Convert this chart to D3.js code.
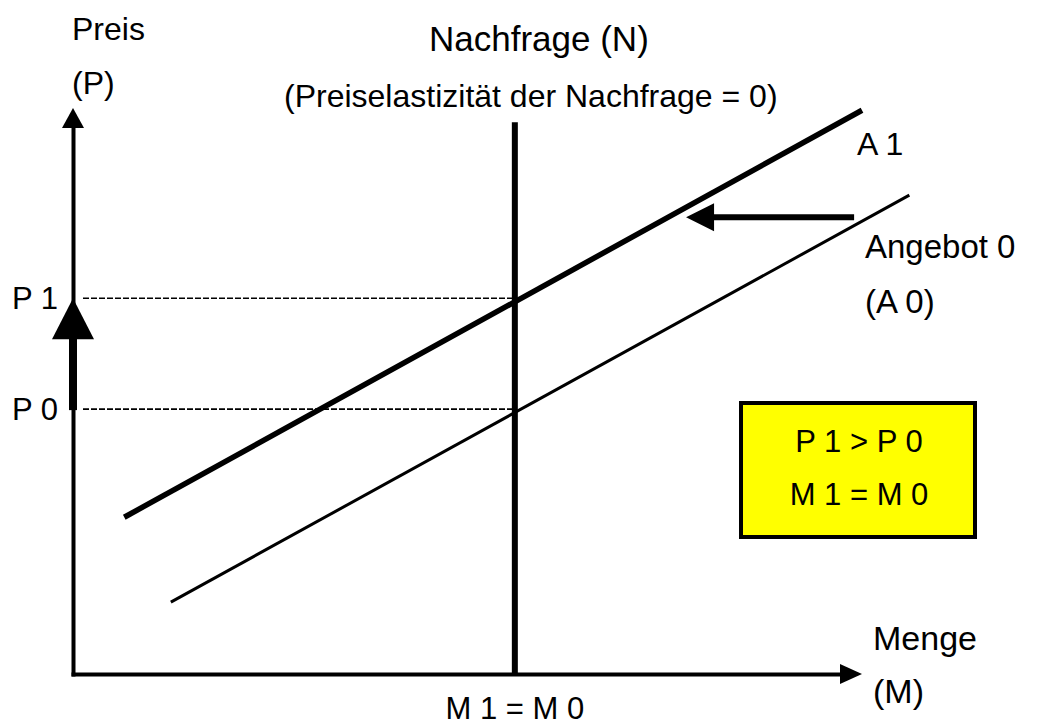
<!DOCTYPE html>
<html lang="de">
<head>
<meta charset="UTF-8">
<script src="https://cdn.jsdelivr.net/npm/d3@7"></script>
<style>
  body { margin: 0; background: #fff; }
  text { font-family: "Liberation Sans", Arial, sans-serif; fill: #000; }
</style>
</head>
<body>
<div id="container"></div>
<script>
const width = 1038;
const height = 720;

// Menge (M) und Preis (P) in Diagramm-Einheiten
const quantityDomain = [0, 100];
const priceDomain = [0, 100];

const supplyA0 = [{m: 12.4, p: 12.7}, {m: 106, p: 84.6}];
const supplyA1 = [{m: 6.5, p: 27.7}, {m: 100, p: 99.6}];
const demand = [{m: 56, p: 0}, {m: 56, p: 97.5}];
const priceLevels = [{name: "P 0", p: 46.8}, {name: "P 1", p: 66.4}];
const equilibriumQuantity = {name: "M 1 = M 0", m: 56};
const supplyShift = [{m: 99, p: 80.7}, {m: 77.7, p: 80.7}];
const boxLines = ["P 1 > P 0", "M 1 = M 0"];

const x = d3.scaleLinear().domain(quantityDomain).range([73, 862]);
const y = d3.scaleLinear().domain(priceDomain).range([674, 108]);

const svg = d3.create("svg")
    .attr("width", width)
    .attr("height", height);

// axes, no ticks, stopped at the arrow heads
svg.append("g")
    .attr("transform", `translate(0,${y(0)})`)
    .call(d3.axisBottom(x.copy().range([71, 845])).tickValues([]).tickSizeOuter(0))
    .select(".domain").attr("stroke-width", 4);

svg.append("g")
    .attr("transform", `translate(${x(0)},0)`)
    .call(d3.axisLeft(y.copy().range([676, 125])).tickValues([]).tickSizeOuter(0))
    .select(".domain").attr("stroke-width", 4);

function arrow(x1, y1, x2, y2, shaft, headLen, headHalf) {
    const dx = x2 - x1, dy = y2 - y1;
    const len = Math.hypot(dx, dy);
    const ux = dx / len, uy = dy / len;
    const bx = x2 - ux * headLen, by = y2 - uy * headLen;
    svg.append("line")
        .attr("x1", x1).attr("y1", y1)
        .attr("x2", bx + ux * 1).attr("y2", by + uy * 1)
        .attr("stroke", "#000")
        .attr("stroke-width", shaft);
    svg.append("polygon")
        .attr("points", [
            [x2, y2],
            [bx - uy * headHalf, by + ux * headHalf],
            [bx + uy * headHalf, by - ux * headHalf]
        ].map(d => d.join(",")).join(" "))
        .attr("fill", "#000");
}

// axis arrow heads
arrow(x(0), y(90), x(0), y(100), 0, 20, 11);
arrow(x(95), y(0), x(100), y(0), 0, 22, 10);

// dashed price guides
svg.selectAll(".guide")
    .data(priceLevels)
    .join("line")
    .attr("x1", x(0) + 10)
    .attr("x2", x(equilibriumQuantity.m))
    .attr("y1", d => y(d.p))
    .attr("y2", d => y(d.p))
    .attr("stroke", "#000")
    .attr("stroke-width", 1.6)
    .attr("stroke-dasharray", "6,2");

const line = d3.line().x(d => x(d.m)).y(d => y(d.p));

svg.append("path").datum(supplyA0)
    .attr("d", line).attr("fill", "none")
    .attr("stroke", "#000").attr("stroke-width", 3);

svg.append("path").datum(supplyA1)
    .attr("d", line).attr("fill", "none")
    .attr("stroke", "#000").attr("stroke-width", 5.5);

svg.append("path").datum(demand)
    .attr("d", line).attr("fill", "none")
    .attr("stroke", "#000").attr("stroke-width", 6);

// price rise arrow on the y axis
arrow(x(0), y(priceLevels[0].p) + 1, x(0), y(priceLevels[1].p), 8, 41, 21);

// supply shift arrow
arrow(x(supplyShift[0].m), y(supplyShift[0].p), x(supplyShift[1].m), y(supplyShift[1].p), 6, 28, 14);

// labels
const labels = [
    {t: "Preis", x: 72, y: 40, s: 32},
    {t: "(P)", x: 72, y: 94, s: 32},
    {t: "Nachfrage (N)", x: 429, y: 51, s: 35},
    {t: "(Preiselastizität der Nachfrage = 0)", x: 284, y: 107, s: 32},
    {t: "A 1", x: 857, y: 155, s: 32},
    {t: "Angebot 0", x: 865, y: 258, s: 33},
    {t: "(A 0)", x: 865, y: 313, s: 33},
    {t: "Menge", x: 873, y: 650, s: 34},
    {t: "(M)", x: 873, y: 703, s: 34}
];
svg.selectAll(".lbl")
    .data(labels)
    .join("text")
    .attr("x", d => d.x)
    .attr("y", d => d.y)
    .attr("font-size", d => d.s)
    .text(d => d.t);

svg.selectAll(".plbl")
    .data(priceLevels)
    .join("text")
    .attr("x", 12)
    .attr("y", d => y(d.p) + 11)
    .attr("font-size", 31)
    .text(d => d.name);

svg.append("text")
    .attr("x", x(equilibriumQuantity.m))
    .attr("y", 719)
    .attr("text-anchor", "middle")
    .attr("font-size", 31)
    .text(equilibriumQuantity.name);

// yellow result box
const box = svg.append("g").attr("transform", "translate(741,403)");
box.append("rect")
    .attr("width", 234).attr("height", 134)
    .attr("fill", "#ffff00")
    .attr("stroke", "#000")
    .attr("stroke-width", 4);
box.selectAll("text")
    .data(boxLines)
    .join("text")
    .attr("x", 118)
    .attr("y", (d, i) => 49 + i * 53)
    .attr("text-anchor", "middle")
    .attr("font-size", 31)
    .text(d => d);

document.getElementById("container").appendChild(svg.node());
</script>
</body>
</html>
